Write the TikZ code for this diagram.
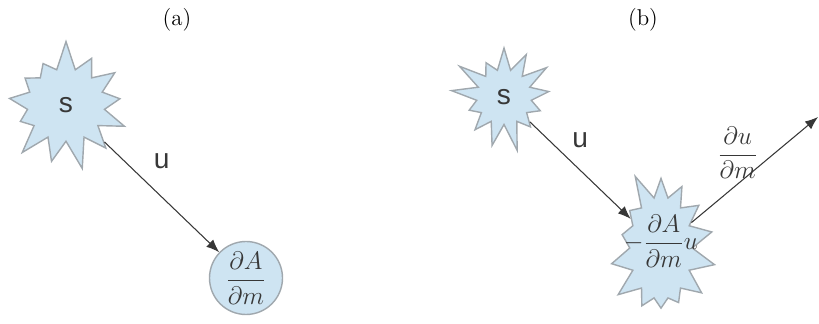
\documentclass[tikz,border=0pt]{standalone}
\usepackage{amsmath}
\usepackage{fontspec}
\usetikzlibrary{arrows.meta,shapes.symbols}
\newfontfamily\labelfont{Liberation Sans}
\definecolor{burstfill}{RGB}{206,228,242}
\definecolor{burstline}{RGB}{160,168,174}
\definecolor{inkgray}{RGB}{55,55,55}
\tikzset{
  burst/.style={starburst,fill=burstfill,draw=burstline,line width=0.8pt,
    starburst point height=0.6cm,inner sep=1pt,text=inkgray},
  flow/.style={draw=inkgray,line width=0.6pt,-{Latex[length=2.6mm,width=2mm]}},
  sanslabel/.style={font=\labelfont\fontsize{16}{18}\selectfont,text=inkgray},
  mathlabel/.style={font=\fontsize{15}{17}\selectfont,text=inkgray},
}

\begin{document}
\begin{tikzpicture}
  \useasboundingbox (0,0) rectangle (16.38,6.48);
  % panel (a)
  \node[font=\fontsize{13}{15}\selectfont] (capa) at (3.54,6.08) {(a)};
  \node[burst,sanslabel,minimum width=2.75cm,minimum height=2.65cm,
    starburst points=13,random starburst=7] (srca) at (1.32,4.38) {s};
  \node[circle,fill=burstfill,draw=burstline,line width=0.8pt,minimum size=1.46cm,
    inner sep=0pt,mathlabel] (resa) at (4.92,0.92) {$\dfrac{\partial A}{\partial m}$};
  \draw[flow] (srca) -- node[sanslabel,midway,yshift=0.72cm] {u} (resa);

  % panel (b)
  \node[font=\fontsize{13}{15}\selectfont] (capb) at (12.86,6.08) {(b)};
  \node[burst,sanslabel,minimum width=2.3cm,minimum height=2.3cm,
    starburst points=13,random starburst=21] (srcb) at (10.08,4.54) {s};
  \node[burst,minimum width=2.45cm,minimum height=3.25cm,
    starburst points=14,random starburst=5,
    label={[mathlabel,yshift=0.14cm]center:{$-\dfrac{\partial A}{\partial m}u$}}] (grad) at (13.22,1.52) {};
  \coordinate (outb) at (16.36,4.14);
  \draw[flow] (srcb) -- node[sanslabel,midway,yshift=0.6cm] {u} (grad);
  \draw[flow] (grad) -- node[mathlabel,midway,xshift=-0.34cm,yshift=0.34cm]
    {$\dfrac{\partial u}{\partial m}$} (outb);
\end{tikzpicture}
\end{document}
